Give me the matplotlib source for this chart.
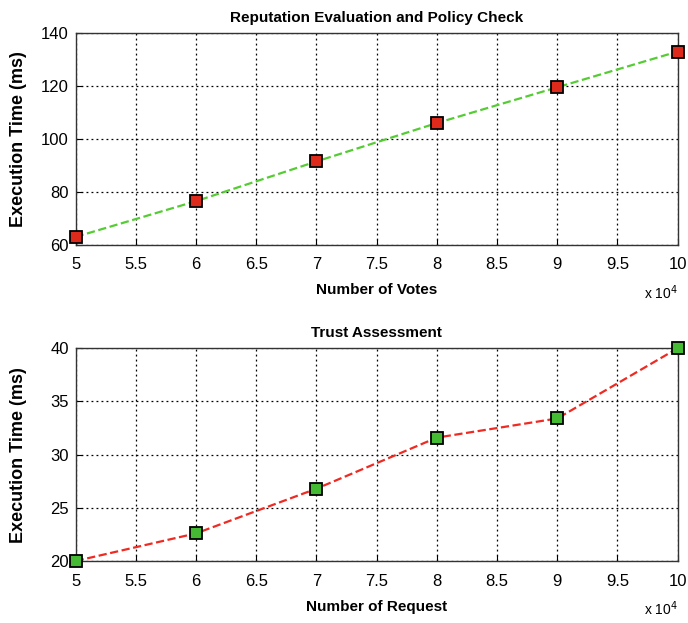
import matplotlib
matplotlib.use('Agg')
import matplotlib.pyplot as plt
import numpy as np

plt.rcParams['font.family'] = ['Liberation Sans', 'DejaVu Sans']

# number of votes / requests
votes = [50000, 60000, 70000, 80000, 90000, 100000]
requests = [50000, 60000, 70000, 80000, 90000, 100000]

# execution times in ms
rep_time = [63, 76.5, 91.5, 106, 119.5, 133]
trust_time = [20, 22.6, 26.8, 31.6, 33.4, 40]

xticks = [5, 5.5, 6, 6.5, 7, 7.5, 8, 8.5, 9, 9.5, 10]
xticklabels = ['5', '5.5', '6', '6.5', '7', '7.5', '8', '8.5', '9', '9.5', '10']


def style_axes(ax, xlabel, title, ylim, yticks):
    ax.set_xlim(5, 10)
    ax.set_ylim(*ylim)
    ax.set_xticks(xticks)
    ax.set_xticklabels(xticklabels)
    ax.set_yticks(yticks)
    ax.grid(True, color='black', linestyle=(0, (1.5, 2.5)), linewidth=0.9)
    ax.tick_params(direction='in', length=4, labelsize=12)
    ax.tick_params(axis='x', pad=9)
    ax.tick_params(axis='y', pad=5)
    for s in ax.spines.values():
        s.set_linewidth(1.0)
        s.set_color('#333333')
    ax.set_xlabel(xlabel, fontsize=11, fontweight='bold', labelpad=8)
    ax.set_ylabel('Execution Time (ms)', fontsize=13, fontweight='bold')
    ax.yaxis.set_label_coords(-0.081, 0.5)
    ax.set_title(title, fontsize=11, fontweight='bold', pad=8)
    ax.text(1.0, -0.225, r'x 10$^4$', transform=ax.transAxes,
            ha='right', va='center', fontsize=10)


fig = plt.figure(figsize=(6.88, 6.23), dpi=100)
ax1 = fig.add_axes([0.11, 0.607, 0.875, 0.340])
ax2 = fig.add_axes([0.11, 0.0995, 0.875, 0.3415])

ax1.plot(np.array(votes) / 1e4, rep_time, linestyle='--', color='#55cc33',
         linewidth=1.6, marker='s', markersize=9, markerfacecolor='#dd2a1a',
         markeredgecolor='black', markeredgewidth=1.3, clip_on=False, zorder=5)
style_axes(ax1, 'Number of Votes', 'Reputation Evaluation and Policy Check',
           (60, 140), [60, 80, 100, 120, 140])

ax2.plot(np.array(requests) / 1e4, trust_time, linestyle='--', color='#ee2a22',
         linewidth=1.6, marker='s', markersize=9, markerfacecolor='#44bb33',
         markeredgecolor='black', markeredgewidth=1.3, clip_on=False, zorder=5)
style_axes(ax2, 'Number of Request', 'Trust Assessment',
           (20, 40), [20, 25, 30, 35, 40])

fig.savefig('out.png', dpi=100)
